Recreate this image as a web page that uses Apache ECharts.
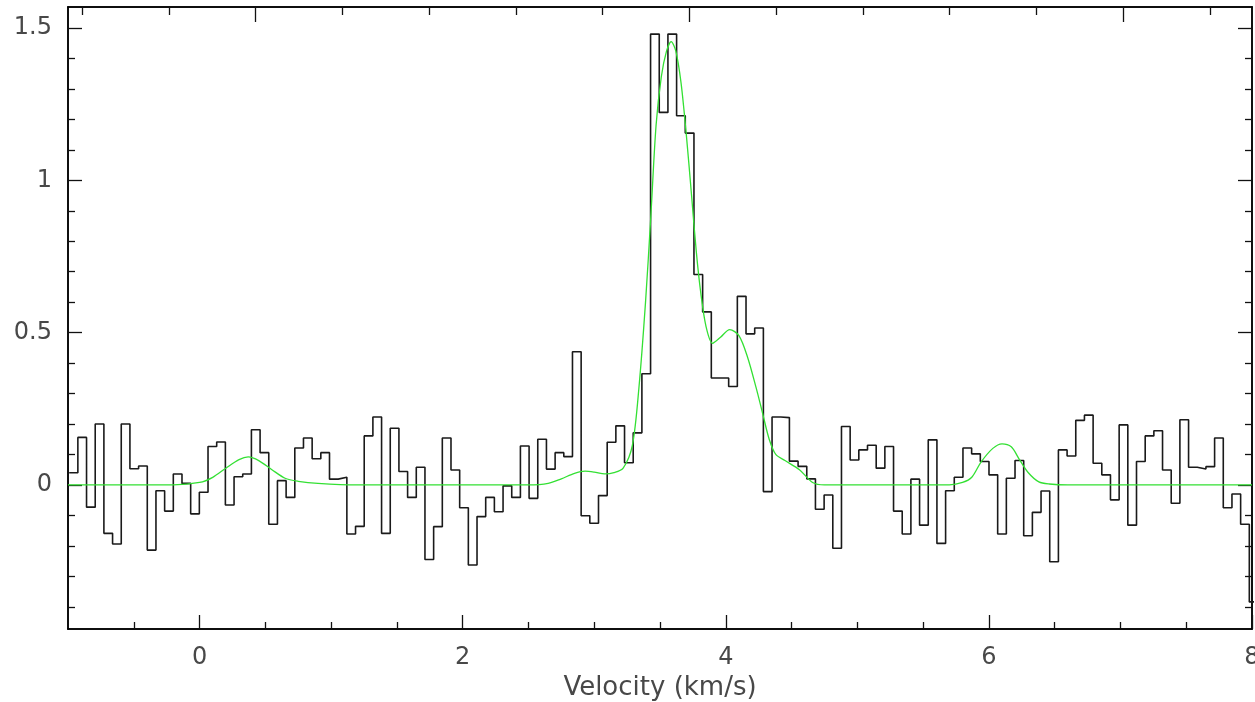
<!DOCTYPE html>
<html>
<head>
<meta charset="utf-8">
<title>Velocity spectrum</title>
<script src="https://cdn.jsdelivr.net/npm/echarts@6/dist/echarts.min.js"></script>
<style>
html,body{margin:0;padding:0;background:#fff;}
#myChart{width:1255px;height:702px;}
</style>
</head>
<body>
<div id="myChart"></div>
<script>
// channel grid of the spectrum (km/s)
var chanStart = -0.991;
var chanWidth = 0.06596;

// observed spectrum, one value per channel
var specValues = [
  0.04, 0.156, -0.073, 0.20, -0.159, -0.194, 0.20, 0.053, 0.062, -0.214,
  -0.019, -0.086, 0.036, 0.005, -0.095, -0.024, 0.126, 0.141, -0.066, 0.027,
  0.036, 0.181, 0.106, -0.129, 0.014, -0.041, 0.121, 0.154, 0.086, 0.106,
  0.019, 0.025, -0.161, -0.136, 0.161, 0.223, -0.159, 0.186, 0.044, -0.041,
  0.058, -0.245, -0.137, 0.154, 0.049, -0.075, -0.263, -0.104, -0.041, -0.088,
  -0.003, -0.041, 0.128, -0.044, 0.150, 0.052, 0.106, 0.093, 0.437, -0.101,
  -0.126, -0.035, 0.140, 0.194, 0.073, 0.171, 0.365, 1.48, 1.223, 1.48,
  1.212, 1.155, 0.691, 0.568, 0.351, 0.351, 0.323, 0.619, 0.496, 0.515,
  -0.022, 0.223, 0.221, 0.078, 0.061, 0.02, -0.08, -0.033, -0.208, 0.192,
  0.082, 0.115, 0.13, 0.055, 0.126, -0.086, -0.161, 0.019, -0.132, 0.148,
  -0.192, -0.019, 0.025, 0.121, 0.102, 0.077, 0.033, -0.161, 0.022, 0.08,
  -0.167, -0.09, -0.02, -0.252, 0.115, 0.095, 0.212, 0.229, 0.071, 0.033,
  -0.049, 0.197, -0.132, 0.077, 0.161, 0.178, 0.049, -0.06, 0.214, 0.058,
  0.052, 0.06, 0.154, -0.075, -0.03, -0.129, -0.384
];

// fitted profile (green curve)
var fitVel = [-1, -0.2, 0.0, 0.1, 0.2, 0.3, 0.37, 0.45, 0.55, 0.65, 0.75, 0.9, 1.2,
  2.5, 2.65, 2.75, 2.85, 2.93, 3.0, 3.08, 3.15, 3.22, 3.29, 3.34, 3.39, 3.43, 3.47,
  3.51, 3.55, 3.585, 3.62, 3.66, 3.70, 3.74, 3.775, 3.81, 3.85, 3.9, 3.96, 4.03,
  4.1, 4.165, 4.23, 4.28, 4.33, 4.38, 4.45, 4.56, 4.66, 4.75, 5.7, 5.8, 5.87,
  5.94, 6.03, 6.1, 6.17, 6.23, 6.3, 6.38, 6.46, 6.6, 8];
var fitVal = [0, 0, 0.008, 0.025, 0.055, 0.083, 0.092, 0.08, 0.05, 0.022, 0.012, 0.005, 0,
  0, 0.005, 0.02, 0.038, 0.045, 0.042, 0.036, 0.04, 0.055, 0.13, 0.32, 0.6, 0.88, 1.18,
  1.34, 1.425, 1.455, 1.425, 1.32, 1.15, 0.95, 0.77, 0.63, 0.52, 0.465, 0.485, 0.51,
  0.49, 0.42, 0.32, 0.235, 0.15, 0.1, 0.08, 0.05, 0.008, 0, 0, 0.008, 0.025,
  0.075, 0.12, 0.135, 0.125, 0.085, 0.04, 0.01, 0.003, 0, 0];

var xMajorTicks = [0, 2, 4, 6, 8];
var xMinorTicks = [-0.5, 0.5, 1, 1.5, 2.5, 3, 3.5, 4.5, 5, 5.5, 6.5, 7, 7.5];
var yMajorTicks = [0, 0.5, 1, 1.5];
var yMinorTicks = [-0.4, -0.3, -0.2, -0.1, 0.1, 0.2, 0.3, 0.4, 0.6, 0.7, 0.8, 0.9,
  1.1, 1.2, 1.3, 1.4];
// top axis counts channels
var topMajorTicks = [50, 100, 150];
var topMinorTicks = [30, 40, 60, 70, 80, 90, 110, 120, 130, 140, 160];
var topRefChan = 50, topRefVel = 0.4255;

var xMin = -1, xMax = 8, yMin = -0.473, yMax = 1.569;

var stepData = specValues.map(function (v, k) { return [chanStart + k * chanWidth, v]; });
stepData.push([chanStart + specValues.length * chanWidth, specValues[specValues.length - 1]]);
var fitData = fitVel.map(function (v, i) { return [v, fitVal[i]]; });

var font = "'DejaVu Sans', sans-serif";
var textColor = '#484848';
var lineStyle = { color: '#000', width: 1.5 };

function tickAxis(pos, ticks, len, extra) {
  var a = {
    type: 'value', position: pos, min: xMin, max: xMax,
    axisLine: { show: true, onZero: false, lineStyle: lineStyle },
    axisTick: { show: true, inside: true, length: len, customValues: ticks,
      lineStyle: { color: '#111', width: 1.3 } },
    axisLabel: { show: false },
    splitLine: { show: false }
  };
  for (var k in extra) a[k] = extra[k];
  return a;
}

var topMin = topRefChan + (xMin - topRefVel) / chanWidth;
var topMax = topRefChan + (xMax - topRefVel) / chanWidth;

var option = {
  animation: false,
  backgroundColor: '#fff',
  grid: { left: 68, right: 3, top: 7, bottom: 73, containLabel: false, outerBoundsMode: 'none' },
  xAxis: [
    tickAxis('bottom', xMajorTicks, 14, {
      name: 'Velocity (km/s)', nameLocation: 'middle', nameGap: 46,
      nameTextStyle: { fontFamily: font, fontSize: 26, color: textColor },
      axisLabel: { show: true, customValues: xMajorTicks, margin: 17,
        fontFamily: font, fontSize: 24, color: textColor }
    }),
    tickAxis('bottom', xMinorTicks, 7, {}),
    tickAxis('top', topMajorTicks, 15, { min: topMin, max: topMax }),
    tickAxis('top', topMinorTicks, 8, { min: topMin, max: topMax })
  ],
  yAxis: [
    tickAxis('left', yMajorTicks, 14, { min: yMin, max: yMax,
      axisLabel: { show: true, customValues: yMajorTicks, margin: 16,
        fontFamily: font, fontSize: 24, color: textColor } }),
    tickAxis('left', yMinorTicks, 7, { min: yMin, max: yMax }),
    tickAxis('right', yMajorTicks, 14, { min: yMin, max: yMax }),
    tickAxis('right', yMinorTicks, 7, { min: yMin, max: yMax })
  ],
  series: [
    {
      name: 'spectrum', type: 'line', step: 'end',
      xAxisIndex: 0, yAxisIndex: 0,
      data: stepData, symbol: 'none',
      lineStyle: { color: '#1a1a1a', width: 1.6 },
      clip: true, z: 2
    },
    {
      name: 'fit', type: 'line', smooth: 0.3,
      xAxisIndex: 0, yAxisIndex: 0,
      data: fitData, symbol: 'none',
      lineStyle: { color: '#33e033', width: 1.3 },
      clip: true, z: 3
    }
  ]
};

var myChart = echarts.init(document.getElementById('myChart'));
myChart.setOption(option);
</script>
</body>
</html>
